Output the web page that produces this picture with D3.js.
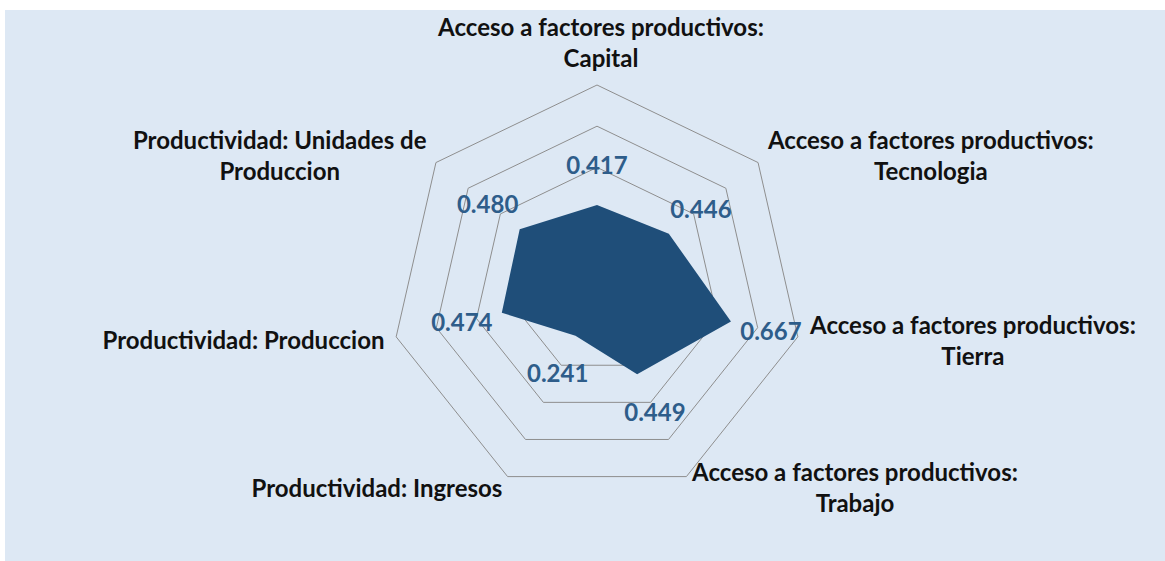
<!DOCTYPE html>
<html>
<head>
<meta charset="utf-8">
<script src="https://cdn.jsdelivr.net/npm/d3@7"></script>
<style>
  body { margin: 0; background: #fff; }
  svg { display: block; }
</style>
</head>
<body>
<svg id="chart" width="1165" height="561"></svg>
<script>
// category labels, one array of lines per axis (clockwise from top)
var categories = [
  ['Acceso a factores productivos:', 'Capital'],
  ['Acceso a factores productivos:', 'Tecnologia'],
  ['Acceso a factores productivos:', 'Tierra'],
  ['Acceso a factores productivos:', 'Trabajo'],
  ['Productividad: Ingresos'],
  ['Productividad: Produccion'],
  ['Productividad: Unidades de', 'Produccion']
];
var values = [0.417, 0.446, 0.667, 0.449, 0.241, 0.474, 0.480];
var ringTicks = [0.2, 0.4, 0.6, 0.8, 1.0];

var
  svg = d3.select('#chart'),
  cx = 597, cy = 291,
  outerR = 206,
  n = categories.length,
  rScale = d3.scaleLinear().domain([0, 1]).range([0, outerR]),
  angle = function(i){ return -Math.PI / 2 + i * 2 * Math.PI / n; },
  fmt = d3.format('.3f')
  ;

svg.append('rect')
  .attr('x', 5).attr('y', 10)
  .attr('width', 1160).attr('height', 551)
  .attr('fill', '#dde8f4');

var g = svg.append('g').attr('transform', 'translate(' + cx + ',' + cy + ')');

function pt(i, v){
  var a = angle(i), r = rScale(v);
  return [r * Math.cos(a), r * Math.sin(a)];
}

// grid rings
g.selectAll('.ring')
  .data(ringTicks)
  .enter().append('path')
  .attr('class', 'ring')
  .attr('fill', 'none')
  .attr('stroke', '#8e8e8e')
  .attr('stroke-width', 1)
  .attr('d', function(t){
    return d3.line()(d3.range(n).map(function(i){ return pt(i, t); })) + 'Z';
  });

// series area
g.append('path')
  .datum(values)
  .attr('fill', '#1f4e79')
  .attr('d', function(d){
    return d3.line()(d.map(function(v, i){ return pt(i, v); })) + 'Z';
  });

// data labels
g.selectAll('.dlabel')
  .data(values)
  .enter().append('text')
  .attr('class', 'dlabel')
  .attr('text-anchor', 'middle')
  .attr('dominant-baseline', 'central')
  .attr('font-family', 'Lato, sans-serif')
  .attr('font-weight', 'bold')
  .attr('font-size', 24)
  .attr('fill', '#2e5d8a')
  .attr('x', function(d, i){ var a = angle(i); return (rScale(d) + 41) * Math.cos(a); })
  .attr('y', function(d, i){ var a = angle(i); return (rScale(d) + 41) * Math.sin(a); })
  .text(function(d){ return fmt(d); });

// category labels
var lineH = 31;
var cat = g.selectAll('.cat')
  .data(categories)
  .enter().append('g')
  .attr('class', 'cat');

cat.append('text')
  .attr('text-anchor', 'middle')
  .attr('font-family', 'Lato, sans-serif')
  .attr('font-weight', 'bold')
  .attr('font-size', 24)
  .attr('fill', '#111')
  .each(function(lines){
    var t = d3.select(this);
    lines.forEach(function(l, k){
      t.append('tspan')
        .attr('x', 0)
        .attr('y', (k - (lines.length - 1) / 2) * lineH)
        .attr('dominant-baseline', 'central')
        .text(l);
    });
  });

cat.attr('transform', function(lines, i){
  var
    a = angle(i),
    ca = Math.cos(a), sa = Math.sin(a),
    px = (outerR + 12) * ca,
    py = (outerR + 12) * sa,
    w = this.getBBox().width,
    h = lines.length * lineH,
    x, y
    ;
  if (Math.abs(ca) < 0.1) {
    x = px + 4;
    y = py - h / 2;
  } else {
    x = ca > 0 ? px + w / 2 : px - w / 2;
    y = py;
  }
  return 'translate(' + x + ',' + y + ')';
});
</script>
</body>
</html>
